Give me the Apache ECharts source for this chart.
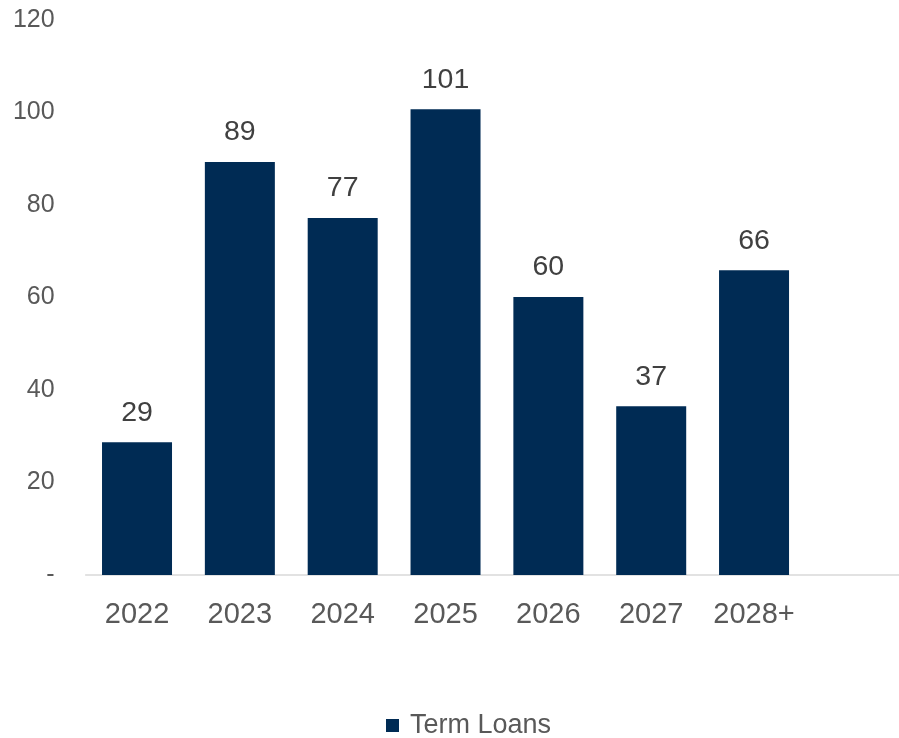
<!DOCTYPE html>
<html>
<head>
<meta charset="utf-8">
<script src="https://cdn.jsdelivr.net/npm/echarts@6/dist/echarts.min.js"></script>
<style>html,body{margin:0;padding:0;background:#fff;overflow:hidden;}#c{width:910px;height:738px;}</style>
</head>
<body>
<div id="c"></div>
<script>
const categories = ['2022', '2023', '2024', '2025', '2026', '2027', '2028+', ''];
const termLoans = [28.7, 89.3, 77.2, 100.7, 60.1, 36.5, 65.9, null];
const yTicks = { min: 0, max: 120, interval: 20 };
const seriesName = 'Term Loans';

const chart = echarts.init(document.getElementById('c'));
chart.setOption({
  animation: false,
  textStyle: { fontFamily: 'Liberation Sans, Arial, sans-serif' },
  grid: { left: 85.6, top: 20, right: 1.7, bottom: 163, containLabel: false },
  legend: {
    top: 707, left: 381,
    icon: 'rect', itemWidth: 13, itemHeight: 13, itemGap: 6,
    textStyle: { fontSize: 27, color: '#595959', padding: [0, 0, 0, 6],
      fontFamily: 'Liberation Sans, Arial, sans-serif' },
    data: [seriesName]
  },
  xAxis: {
    type: 'category', data: categories,
    axisLine: { lineStyle: { color: '#d9d9d9', width: 1.5 } },
    axisTick: { show: false },
    axisLabel: { fontSize: 29, color: '#595959', margin: 25, interval: 0 }
  },
  yAxis: {
    type: 'value', min: yTicks.min, max: yTicks.max, interval: yTicks.interval,
    splitLine: { show: false },
    axisLine: { show: false }, axisTick: { show: false },
    axisLabel: { fontSize: 25, color: '#595959', margin: 31,
      formatter: v => v === 0 ? '-' : String(v) }
  },
  series: [{
    name: seriesName, type: 'bar', data: termLoans, barWidth: 70,
    itemStyle: { color: '#002b54' },
    label: { show: true, position: 'top', distance: 15, fontSize: 28.5, color: '#404040',
      formatter: p => Math.round(p.value) }
  }]
});
</script>
</body>
</html>
